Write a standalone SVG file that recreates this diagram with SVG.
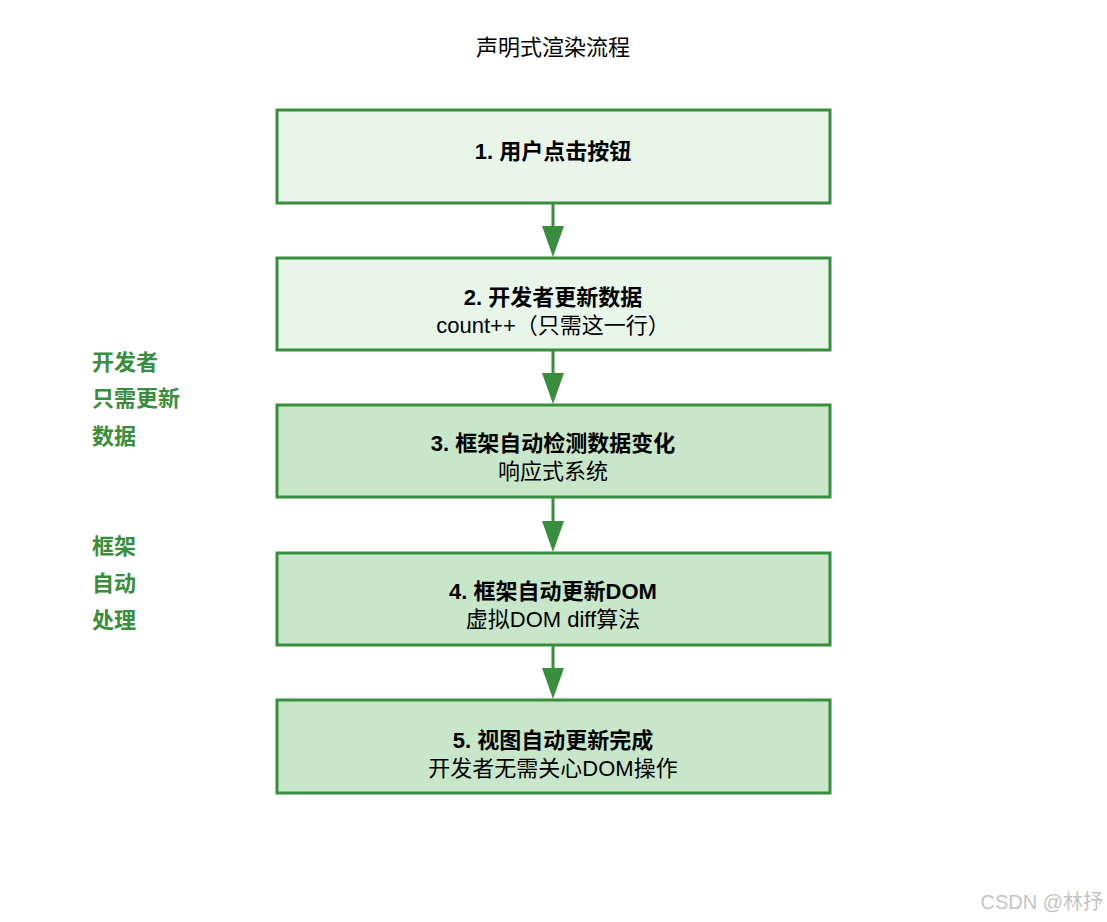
<svg xmlns="http://www.w3.org/2000/svg" width="1107" height="922" viewBox="0 0 1107 922">
<defs>
<style>
text{font-family:"Liberation Sans","Noto Sans CJK SC",sans-serif;font-size:22px;text-anchor:middle;fill:#000}
.b{font-weight:bold}
.box{stroke:#388e3c;stroke-width:3}
.l1{fill:#e8f5e9}
.l2{fill:#c8e6c9}
.side{fill:#388e3c;font-weight:bold;text-anchor:start}
.conn line{stroke:#388e3c;stroke-width:3}
.conn polygon{fill:#388e3c}
.wm{fill:#c4c4c4;font-size:20px;text-anchor:end}
</style>
</defs>
<rect width="1107" height="922" fill="#fff"/>
<text x="553" y="55">声明式渲染流程</text>
<g id="node1"><rect class="box l1" x="277" y="110" width="553" height="93"/><text class="b" x="553" y="159">1. 用户点击按钮</text></g>
<g id="node2"><rect class="box l1" x="277" y="258" width="553" height="92"/><text class="b" x="553" y="305">2. 开发者更新数据</text><text x="553" y="333">count++（只需这一行）</text></g>
<g id="node3"><rect class="box l2" x="277" y="405" width="553" height="92"/><text class="b" x="553" y="451">3. 框架自动检测数据变化</text><text x="553" y="479">响应式系统</text></g>
<g id="node4"><rect class="box l2" x="277" y="553" width="553" height="92"/><text class="b" x="553" y="599">4. 框架自动更新DOM</text><text x="553" y="627">虚拟DOM diff算法</text></g>
<g id="node5"><rect class="box l2" x="277" y="700" width="553" height="93"/><text class="b" x="553" y="748">5. 视图自动更新完成</text><text x="553" y="776">开发者无需关心DOM操作</text></g>
<g id="connectors" class="conn">
<line x1="553" y1="204" x2="553" y2="228"/><polygon points="542,226 564,226 553,257"/>
<line x1="553" y1="351" x2="553" y2="375"/><polygon points="542,373 564,373 553,404"/>
<line x1="553" y1="498" x2="553" y2="523"/><polygon points="542,521 564,521 553,552"/>
<line x1="553" y1="646" x2="553" y2="670"/><polygon points="542,668 564,668 553,699"/>
</g>
<g id="side-labels">
<text class="side" x="92" y="370">开发者</text>
<text class="side" x="92" y="406">只需更新</text>
<text class="side" x="92" y="444">数据</text>
<text class="side" x="92" y="554">框架</text>
<text class="side" x="92" y="591">自动</text>
<text class="side" x="92" y="628">处理</text>
</g>
<text class="wm" x="1103" y="909">CSDN @林抒</text>
</svg>
